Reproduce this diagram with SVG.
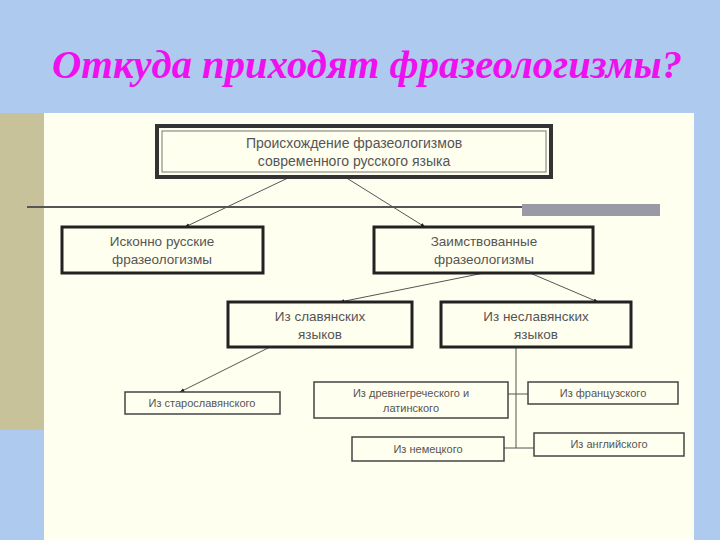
<svg xmlns="http://www.w3.org/2000/svg" width="720" height="540" viewBox="0 0 720 540">
<defs>
<marker id="ah" viewBox="0 0 10 10" refX="9" refY="5" markerWidth="5" markerHeight="5" orient="auto"><path d="M0,1 L10,5 L0,9 z" fill="#222"/></marker>
<style>
.t{font-family:"Liberation Sans",Arial,sans-serif;fill:#555;text-anchor:middle}
.b{fill:#fffff0;stroke:#222;stroke-width:3}
.s{fill:#fffff0;stroke:#444;stroke-width:1.5}
.c{stroke:#555;stroke-width:1;fill:none}
</style>
</defs>
<rect width="720" height="540" fill="#aecbef"/>
<rect x="44" y="113" width="650" height="427" fill="#fffff0"/>
<rect x="0" y="113" width="44" height="317" fill="#c8c29a"/>
<line x1="27" y1="207" x2="660" y2="207" stroke="#555" stroke-width="2"/>
<rect x="522" y="204" width="138" height="12" fill="#9a9aa6"/>
<text x="52" y="78" font-family="Liberation Serif,serif" font-style="italic" font-weight="bold" font-size="39" fill="#ee10ee" textLength="630" lengthAdjust="spacingAndGlyphs">Откуда приходят фразеологизмы?</text>
<g id="connectors">
<line class="c" x1="290" y1="177" x2="185" y2="227" marker-end="url(#ah)"/>
<line class="c" x1="345" y1="177" x2="425" y2="227" marker-end="url(#ah)"/>
<line class="c" x1="484" y1="273" x2="340" y2="302" marker-end="url(#ah)"/>
<line class="c" x1="530" y1="273" x2="598" y2="302" marker-end="url(#ah)"/>
<line class="c" x1="270" y1="347" x2="180" y2="392" marker-end="url(#ah)"/>
<line class="c" x1="516" y1="347" x2="516" y2="448"/>
<line class="c" x1="508" y1="394" x2="528" y2="394"/>
<line class="c" x1="504" y1="448" x2="534" y2="448" stroke-width="1.5"/>
</g>
<g id="top"><rect x="157" y="126" width="394" height="51" fill="#fffff0" stroke="#333" stroke-width="4"/><rect x="162" y="131" width="384" height="41" fill="none" stroke="#777" stroke-width="1"/>
<text class="t" x="354" y="148" font-size="14">Происхождение фразеологизмов</text><text class="t" x="354" y="166" font-size="14">современного русского языка</text></g>
<g id="iskonno"><rect class="b" x="62" y="227" width="201" height="46"/><text class="t" x="162" y="246" font-size="13.5">Исконно русские</text><text class="t" x="162" y="264" font-size="13.5">фразеологизмы</text></g>
<g id="zaimst"><rect class="b" x="374" y="227" width="219" height="46"/><text class="t" x="484" y="246" font-size="13.5">Заимствованные</text><text class="t" x="484" y="264" font-size="13.5">фразеологизмы</text></g>
<g id="slav"><rect class="b" x="228" y="302" width="184" height="45"/><text class="t" x="320" y="321" font-size="13.5">Из славянских</text><text class="t" x="320" y="339" font-size="13.5">языков</text></g>
<g id="neslav"><rect class="b" x="441" y="302" width="190" height="45"/><text class="t" x="536" y="321" font-size="13.5">Из неславянских</text><text class="t" x="536" y="339" font-size="13.5">языков</text></g>
<g id="staroslav"><rect class="s" x="125" y="392" width="155" height="22"/><text class="t" x="202" y="407" font-size="11">Из старославянского</text></g>
<g id="drevne"><rect class="s" x="314" y="382" width="194" height="36"/><text class="t" x="411" y="397" font-size="11">Из древнегреческого и</text><text class="t" x="411" y="412" font-size="11">латинского</text></g>
<g id="franc"><rect class="s" x="528" y="382" width="150" height="22"/><text class="t" x="603" y="397" font-size="11">Из французского</text></g>
<g id="nemec"><rect class="s" x="352" y="437" width="152" height="24"/><text class="t" x="428" y="453" font-size="11">Из немецкого</text></g>
<g id="angl"><rect class="s" x="534" y="433" width="150" height="23"/><text class="t" x="609" y="448" font-size="11">Из английского</text></g>
</svg>
